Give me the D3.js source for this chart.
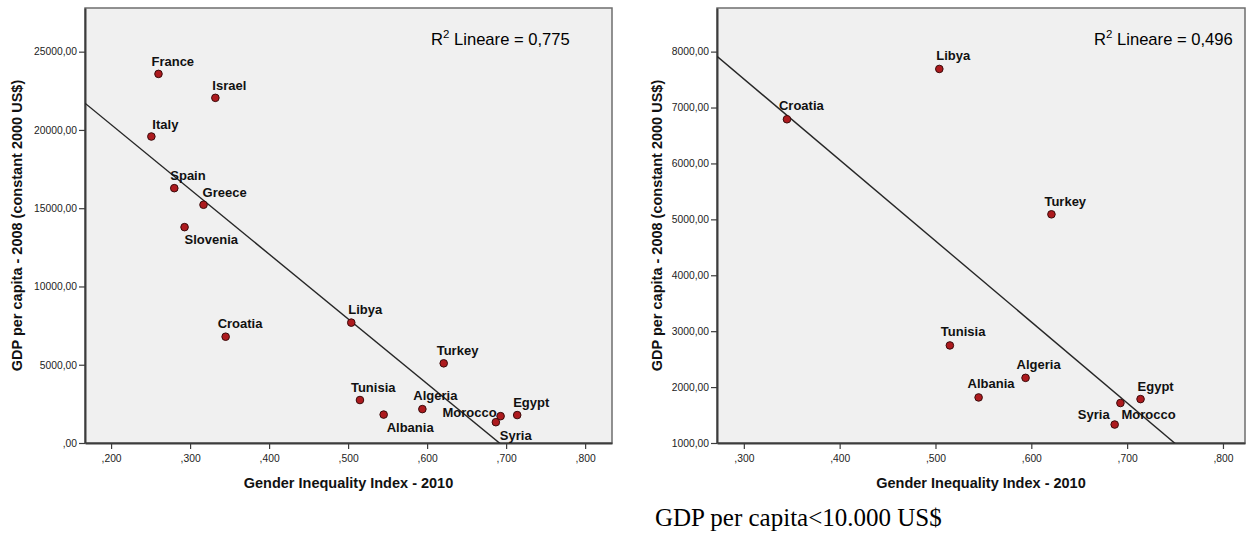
<!DOCTYPE html>
<html>
<head>
<meta charset="utf-8">
<script src="https://cdn.jsdelivr.net/npm/d3@7"></script>
<style>
  body { margin: 0; background: #fff; }
  svg { display: block; }
</style>
</head>
<body>
<svg id="chart"></svg>
<script>
// values
const countries = ["France", "Israel", "Italy", "Spain", "Greece", "Slovenia", "Croatia", "Libya",
    "Turkey", "Tunisia", "Albania", "Algeria", "Morocco", "Syria", "Egypt"];
const gii2010 = [0.260, 0.332, 0.251, 0.280, 0.317, 0.293, 0.345, 0.504,
    0.621, 0.515, 0.545, 0.594, 0.693, 0.687, 0.714];
const gdp2008 = [23580, 22050, 19580, 16280, 15220, 13790, 6790, 7690,
    5090, 2745, 1815, 2165, 1715, 1330, 1785];

const xTicksAll = [0.2, 0.3, 0.4, 0.5, 0.6, 0.7, 0.8];
const yTicksAll = [0, 5000, 10000, 15000, 20000, 25000];
const xTicksLow = [0.3, 0.4, 0.5, 0.6, 0.7, 0.8];
const yTicksLow = [1000, 2000, 3000, 4000, 5000, 6000, 7000, 8000];
const r2Values = ["0,775", "0,496"];
const gdpCap = 10000;

const xTitle = "Gender Inequality Index - 2010";
const yTitle = "GDP per capita - 2008 (constant 2000 US$)";
const caption = "GDP per capita<10.000 US$";

// label offsets from the dot: [dx, dy, anchor]
const labelsAll = {
    France: [-7, -8], Israel: [-3, -8], Italy: [1, -8], Spain: [-4, -8], Greece: [-1, -8],
    Slovenia: [0, 17], Croatia: [-8, -9], Libya: [-3, -9], Turkey: [-7, -8], Tunisia: [-9, -8],
    Albania: [3, 17], Algeria: [-9, -9], Morocco: [-4, 1, "end"], Syria: [4, 18], Egypt: [-4, -8]
};
const labelsLow = {
    Croatia: [-8, -9], Libya: [-3, -9], Turkey: [-7, -8], Tunisia: [-9, -9], Algeria: [-9, -9],
    Albania: [-11, -9], Egypt: [-3, -8], Syria: [-5, -6, "end"], Morocco: [1, 16]
};

const W = 1247, H = 534;
const svg = d3.select("#chart").attr("width", W).attr("height", H);

const allPoints = countries.map((c, i) => ({ name: c, x: gii2010[i], y: gdp2008[i] }));
const lowPoints = allPoints.filter(d => d.y < gdpCap);

const panels = [
    { pts: allPoints, left: 85, right: 612, xDom: [0.167, 0.834], yDom: [0, 27790],
      xTicks: xTicksAll, yTicks: yTicksAll, labels: labelsAll, r2: r2Values[0], r2x: 431, titleX: 22 },
    { pts: lowPoints, left: 717, right: 1245, xDom: [0.272, 0.823], yDom: [1000, 8780],
      xTicks: xTicksLow, yTicks: yTicksLow, labels: labelsLow, r2: r2Values[1], r2x: 1094, titleX: 662 }
];
const plotTop = 8, plotBottom = 443;

const fmtY = d => d3.format(".2f")(d).replace(".", ",").replace(/^0,/, ",");
const fmtX = d => d3.format(".3f")(d).replace(/^0\./, ",");

function fit(pts) {
    const mx = d3.mean(pts, d => d.x), my = d3.mean(pts, d => d.y);
    const sxy = d3.sum(pts, d => (d.x - mx) * (d.y - my));
    const sxx = d3.sum(pts, d => (d.x - mx) * (d.x - mx));
    const b = sxy / sxx;
    return { a: my - b * mx, b: b };
}

panels.forEach((p, k) => {
    const x = d3.scaleLinear().domain(p.xDom).range([p.left, p.right]);
    const y = d3.scaleLinear().domain(p.yDom).range([plotBottom, plotTop]);
    const g = svg.append("g");

    g.append("rect")
        .attr("x", p.left).attr("y", plotTop)
        .attr("width", p.right - p.left).attr("height", plotBottom - plotTop)
        .attr("fill", "#f0f0f0")
        .attr("stroke", "#6e6e6e").attr("stroke-width", 1.5);

    // y axis
    const ya = g.append("g")
        .attr("transform", `translate(${p.left},0)`)
        .call(d3.axisLeft(y).tickValues(p.yTicks).tickFormat(fmtY).tickSize(6).tickPadding(2).tickSizeOuter(0));
    // x axis
    const xa = g.append("g")
        .attr("transform", `translate(0,${plotBottom})`)
        .call(d3.axisBottom(x).tickValues(p.xTicks).tickFormat(fmtX).tickSize(6).tickPadding(6).tickSizeOuter(0));
    [ya, xa].forEach(a => {
        a.select(".domain").attr("stroke", "#3c3c3c").attr("stroke-width", 2);
        a.selectAll(".tick line").attr("stroke", "#3c3c3c").attr("stroke-width", 1.2);
        a.selectAll(".tick text")
            .attr("fill", "#222")
            .style("font-family", "'Liberation Sans', Arial, sans-serif")
            .style("font-size", "10.3px");
    });

    // fit line, clipped to the plot
    const clipId = "clip" + k;
    svg.append("clipPath").attr("id", clipId)
        .append("rect")
        .attr("x", p.left).attr("y", plotTop)
        .attr("width", p.right - p.left).attr("height", plotBottom - plotTop);
    const f = fit(p.pts);
    g.append("line")
        .attr("clip-path", `url(#${clipId})`)
        .attr("x1", x(p.xDom[0])).attr("y1", y(f.a + f.b * p.xDom[0]))
        .attr("x2", x(p.xDom[1])).attr("y2", y(f.a + f.b * p.xDom[1]))
        .attr("stroke", "#262626").attr("stroke-width", 1.4);

    // dots
    g.selectAll("circle.dot")
        .data(p.pts)
        .join("circle")
        .attr("class", "dot")
        .attr("cx", d => x(d.x)).attr("cy", d => y(d.y))
        .attr("r", 3.8)
        .attr("fill", "#ad1a1e")
        .attr("stroke", "#3a0b0b").attr("stroke-width", 1);

    // country labels
    g.selectAll("text.lab")
        .data(p.pts)
        .join("text")
        .attr("class", "lab")
        .attr("x", d => x(d.x) + p.labels[d.name][0])
        .attr("y", d => y(d.y) + p.labels[d.name][1])
        .attr("text-anchor", d => p.labels[d.name][2] || "start")
        .attr("fill", "#111")
        .style("font-family", "'Liberation Sans', Arial, sans-serif")
        .style("font-size", "13px")
        .style("font-weight", "bold")
        .text(d => d.name);

    // R2 note
    const r2 = g.append("text")
        .attr("x", p.r2x).attr("y", 45)
        .attr("fill", "#000")
        .style("font-family", "'Liberation Sans', Arial, sans-serif")
        .style("font-size", "16.6px");
    r2.append("tspan").text("R");
    r2.append("tspan").attr("dy", -7).style("font-size", "11.5px").text("2");
    r2.append("tspan").attr("dy", 7).text(" Lineare = " + p.r2);

    // axis titles
    g.append("text")
        .attr("x", (p.left + p.right) / 2).attr("y", 488)
        .attr("text-anchor", "middle")
        .attr("fill", "#111")
        .style("font-family", "'Liberation Sans', Arial, sans-serif")
        .style("font-size", "14.5px")
        .style("font-weight", "bold")
        .text(xTitle);
    g.append("text")
        .attr("transform", `translate(${p.titleX},${(plotTop + plotBottom) / 2}) rotate(-90)`)
        .attr("text-anchor", "middle")
        .attr("fill", "#111")
        .style("font-family", "'Liberation Sans', Arial, sans-serif")
        .style("font-size", "14.5px")
        .style("font-weight", "bold")
        .text(yTitle);
});

svg.append("text")
    .attr("x", 655).attr("y", 526)
    .attr("fill", "#000")
    .style("font-family", "'Liberation Serif', 'Times New Roman', serif")
    .style("font-size", "25px")
    .text(caption);
</script>
</body>
</html>
